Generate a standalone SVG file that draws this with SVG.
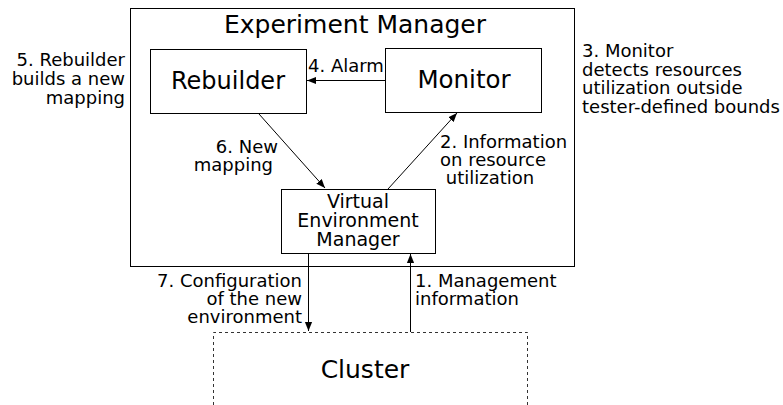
<svg xmlns="http://www.w3.org/2000/svg" width="783" height="405" viewBox="0 0 783 405">
<style>
text{font-family:"DejaVu Sans",sans-serif;fill:#000}
.box{fill:#fff;stroke:#000;stroke-width:1}
.lbl{font-size:18px}
.conn{stroke:#000;stroke-width:1;fill:none;marker-end:url(#ah)}
</style>
<defs>
<marker id="ah" viewBox="0 0 10 10" refX="10" refY="5" markerWidth="9" markerHeight="9" markerUnits="userSpaceOnUse" orient="auto">
<path d="M0,1 L10,5 L0,9 z" fill="#000"/>
</marker>
</defs>
<rect width="783" height="405" fill="#fff"/>
<g id="experiment-manager">
<rect class="box" x="130.5" y="8.5" width="444" height="258"/>
<text x="355" y="33" font-size="25" text-anchor="middle">Experiment Manager</text>
</g>
<g id="rebuilder">
<rect class="box" x="150.5" y="49.5" width="156" height="64"/>
<text x="228" y="89" font-size="24" text-anchor="middle">Rebuilder</text>
</g>
<g id="monitor">
<rect class="box" x="385.5" y="48.5" width="156" height="64"/>
<text x="464" y="88" font-size="24.5" text-anchor="middle">Monitor</text>
</g>
<g id="vem">
<rect class="box" x="281.5" y="189.5" width="154" height="64"/>
<text x="358" y="208" font-size="19" text-anchor="middle">Virtual</text>
<text x="358" y="227" font-size="19" text-anchor="middle">Environment</text>
<text x="358" y="246" font-size="19" text-anchor="middle">Manager</text>
</g>
<g id="cluster">
<path d="M213.5,405 V332.5 H527.5 V405" fill="none" stroke="#333" stroke-width="1" stroke-dasharray="3,3"/>
<text x="365" y="378" font-size="25" text-anchor="middle">Cluster</text>
</g>
<g id="connectors">
<line class="conn" x1="385" y1="80.5" x2="307" y2="80.5"/>
<line class="conn" x1="259" y1="114" x2="325" y2="188"/>
<line class="conn" x1="388" y1="189" x2="457" y2="113"/>
<line class="conn" x1="308.5" y1="254" x2="308.5" y2="331"/>
<line class="conn" x1="410.5" y1="332" x2="410.5" y2="254"/>
</g>
<g id="labels">
<text x="308" y="72" class="lbl">4. Alarm</text>
<text x="125" y="66" class="lbl" text-anchor="end">5. Rebuilder</text>
<text x="125" y="85" class="lbl" text-anchor="end">builds a new</text>
<text x="125" y="104" class="lbl" text-anchor="end">mapping</text>
<text x="582" y="57" class="lbl">3. Monitor</text>
<text x="582" y="75.5" class="lbl">detects resources</text>
<text x="582" y="94" class="lbl">utilization outside</text>
<text x="582" y="112.5" class="lbl">tester-defined bounds</text>
<text x="278" y="153" class="lbl" text-anchor="end">6. New</text>
<text x="273" y="171" class="lbl" text-anchor="end">mapping</text>
<text x="440" y="148" class="lbl">2. Information</text>
<text x="440" y="166" class="lbl">on resource</text>
<text x="440" y="184" class="lbl" xml:space="preserve"> utilization</text>
<text x="302" y="287" class="lbl" text-anchor="end">7. Configuration</text>
<text x="302" y="305" class="lbl" text-anchor="end">of the new</text>
<text x="302" y="323" class="lbl" text-anchor="end">environment</text>
<text x="415" y="287" class="lbl">1. Management</text>
<text x="415" y="305" class="lbl">information</text>
</g>
</svg>
